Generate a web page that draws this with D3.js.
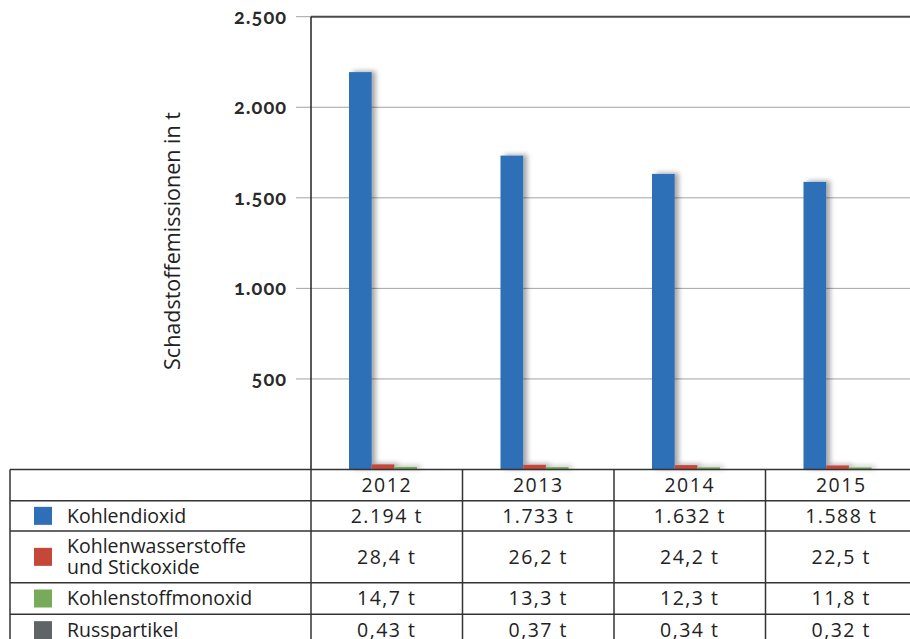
<!DOCTYPE html>
<html>
<head>
<meta charset="utf-8">
<script src="https://cdn.jsdelivr.net/npm/d3@7"></script>
<style>
  html, body { margin: 0; padding: 0; background: #fff; }
  svg { display: block; }
  .tick-label { font-family: Lato, "Open Sans", sans-serif; font-weight: 700; font-size: 20px; fill: #2a2a2a; letter-spacing: 1px; font-feature-settings: "onum" 1; }
  .cell { font-family: "Open Sans", "Noto Sans", sans-serif; font-size: 19.5px; fill: #222; }
  .axis-title { font-family: "Open Sans", "Noto Sans", sans-serif; font-size: 21.5px; font-weight: 500; fill: #222; }
</style>
</head>
<body>
<svg id="chart" width="910" height="639"></svg>
<script>
// Emission data (tonnes per year)
const years = ["2012", "2013", "2014", "2015"];
const seriesNames = ["Kohlendioxid", "Kohlenwasserstoffe und Stickoxide", "Kohlenstoffmonoxid", "Russpartikel"];
const seriesLines = [["Kohlendioxid"], ["Kohlenwasserstoffe", "und Stickoxide"], ["Kohlenstoffmonoxid"], ["Russpartikel"]];
const seriesColors = ["#2f6fb8", "#c5473a", "#77ab59", "#5f6566"];
const co2 = [2194, 1733, 1632, 1588];
const hcNox = [28.4, 26.2, 24.2, 22.5];
const co = [14.7, 13.3, 12.3, 11.8];
const soot = [0.43, 0.37, 0.34, 0.32];
const seriesValues = [co2, hcNox, co, soot];
const tableText = [
  ["2.194 t", "1.733 t", "1.632 t", "1.588 t"],
  ["28,4 t", "26,2 t", "24,2 t", "22,5 t"],
  ["14,7 t", "13,3 t", "12,3 t", "11,8 t"],
  ["0,43 t", "0,37 t", "0,34 t", "0,32 t"]
];
const yTicks = [500, 1000, 1500, 2000, 2500];

const svg = d3.select("#chart");

// Soft drop shadow behind the bars
const defs = svg.append("defs");
const f = defs.append("filter").attr("id", "barShadow")
  .attr("x", "-30%").attr("y", "-30%").attr("width", "180%").attr("height", "160%");
f.append("feDropShadow").attr("dx", 4).attr("dy", -1).attr("stdDeviation", 2.6)
  .attr("flood-color", "#000").attr("flood-opacity", 0.35);

const plotLeft = 311, plotRight = 917, plotTop = 16.7, plotBottom = 469.5;

const x = d3.scaleBand().domain(years).range([plotLeft, plotRight]).padding(0);
const inner = d3.scaleBand().domain(d3.range(seriesNames.length)).range([38, 38 + 4 * 22.7]).padding(0);
const y = d3.scaleLinear().domain([0, 2500]).range([plotBottom, plotTop]);

// Gridlines with short outer ticks
const grid = svg.append("g");
grid.selectAll("line").data(yTicks.filter(d => d < 2500)).join("line")
  .attr("x1", 296).attr("x2", 910)
  .attr("y1", d => y(d)).attr("y2", d => y(d))
  .attr("stroke", "#a3a3a3").attr("stroke-width", 1);
// Top border line
svg.append("line").attr("x1", 296).attr("x2", plotLeft).attr("y1", y(2500)).attr("y2", y(2500))
  .attr("stroke", "#a3a3a3").attr("stroke-width", 1);
svg.append("line").attr("x1", plotLeft).attr("x2", 910).attr("y1", y(2500)).attr("y2", y(2500))
  .attr("stroke", "#4a4a4a").attr("stroke-width", 2);

// Y tick labels
svg.append("g").selectAll("text").data(yTicks).join("text")
  .attr("class", "tick-label")
  .attr("x", 287).attr("y", d => y(d))
  .attr("dy", "0.35em")
  .attr("text-anchor", "end")
  .text(d => d3.format(",")(d).replace(/,/g, "."));

// Axis title
svg.append("text").attr("class", "axis-title")
  .attr("transform", "translate(180,241) rotate(-90)")
  .attr("text-anchor", "middle")
  .text("Schadstoffemissionen in t");

// Bars
const barG = svg.append("g").attr("filter", "url(#barShadow)");
years.forEach((yr, i) => {
  seriesValues.forEach((vals, s) => {
    barG.append("rect")
      .attr("x", x(yr) + inner(s))
      .attr("width", inner.bandwidth())
      .attr("y", y(vals[i]))
      .attr("height", plotBottom - y(vals[i]))
      .attr("fill", seriesColors[s]);
  });
});

// Left axis line
svg.append("line").attr("x1", plotLeft).attr("x2", plotLeft)
  .attr("y1", plotTop).attr("y2", plotBottom)
  .attr("stroke", "#222").attr("stroke-width", 1.5);

// Data table below the plot
const rowEdges = [469.5, 500.7, 531, 582.7, 614.3, 646];
const tableLeft = 10;
const tg = svg.append("g");
const lineColor = "#333";
rowEdges.forEach(r => {
  tg.append("line").attr("x1", tableLeft).attr("x2", 917).attr("y1", r).attr("y2", r)
    .attr("stroke", lineColor).attr("stroke-width", 1.5);
});
[tableLeft].concat(years.map(yr => x(yr)), [x("2015") + x.bandwidth()]).forEach(c => {
  tg.append("line").attr("x1", c).attr("x2", c).attr("y1", rowEdges[0]).attr("y2", 646)
    .attr("stroke", lineColor).attr("stroke-width", 1.5);
});

// Header row: years
tg.selectAll("text.year").data(years).join("text")
  .attr("class", "cell")
  .attr("x", d => x(d) + x.bandwidth() / 2)
  .attr("y", (rowEdges[0] + rowEdges[1]) / 2)
  .attr("dy", "0.35em").attr("text-anchor", "middle")
  .attr("letter-spacing", "1.5px")
  .text(d => d);

// Series rows
seriesNames.forEach((name, s) => {
  const top = rowEdges[s + 1], bottom = rowEdges[s + 2];
  const mid = (top + bottom) / 2;
  tg.append("rect").attr("x", 34).attr("y", mid - 9).attr("width", 18).attr("height", 18)
    .attr("fill", seriesColors[s]);
  const lines = seriesLines[s];
  lines.forEach((ln, k) => {
    tg.append("text").attr("class", "cell")
      .attr("x", 67)
      .attr("y", mid + (k - (lines.length - 1) / 2) * 21)
      .attr("dy", "0.35em")
      .text(ln);
  });
  years.forEach((yr, i) => {
    tg.append("text").attr("class", "cell")
      .attr("x", x(yr) + x.bandwidth() / 2)
      .attr("y", mid)
      .attr("dy", "0.35em").attr("text-anchor", "middle")
      .attr("letter-spacing", "1.5px")
      .text(tableText[s][i]);
  });
});
</script>
</body>
</html>
